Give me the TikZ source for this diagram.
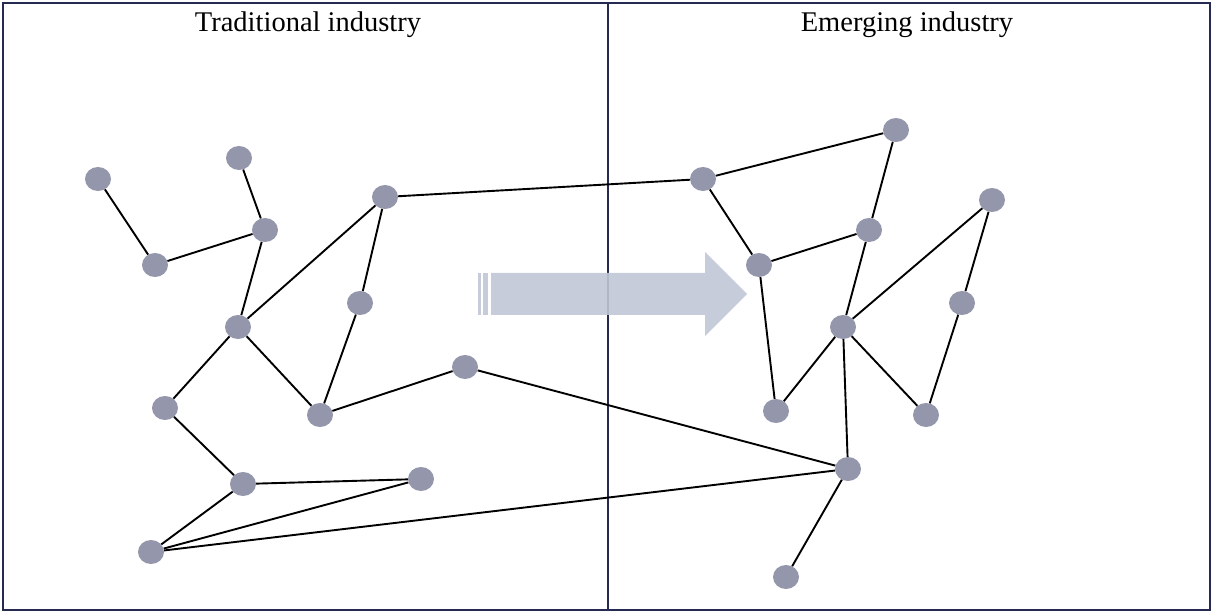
\documentclass[tikz,border=0pt]{standalone}
\usepackage{fontspec}
\setmainfont{Liberation Serif}
\definecolor{framecol}{HTML}{262A50}
\definecolor{dotcol}{HTML}{9496AB}
\definecolor{arrowcol}{HTML}{C0C7D5}
\tikzset{
  dot/.style={ellipse, fill=dotcol, minimum width=26pt, minimum height=24pt, inner sep=0pt},
  link/.style={line width=1.9pt, black},
  title/.style={font=\fontsize{28.5}{32}\selectfont, anchor=base}
}
\usetikzlibrary{shapes.geometric}

\begin{document}
\begin{tikzpicture}[x=1pt, y=-1pt]

% Page size
\useasboundingbox (0,0) rectangle (1213,612);

% Frame and divider
\draw[framecol, line width=2.5pt] (3,3) rectangle (1210,610);
\draw[framecol, line width=2.5pt] (608,3) -- (608,610);

% Titles
\node[title] (tradtitle) at (308,32) {Traditional industry};
\node[title] (emergtitle) at (907,32) {Emerging industry};

% Big arrow between the two sides
\fill[arrowcol, fill opacity=0.9] (478,273) rectangle (481,315);
\fill[arrowcol, fill opacity=0.9] (483,273) rectangle (488,315);
\fill[arrowcol, fill opacity=0.9] (491,273) -- (705,273) -- (705,252) -- (747,294)
  -- (705,336) -- (705,315) -- (491,315) -- cycle;

% Traditional industry nodes
\node[dot] (t1) at (98,179) {};
\node[dot] (t2) at (239,158) {};
\node[dot] (t3) at (155,265) {};
\node[dot] (t4) at (265,230) {};
\node[dot] (t5) at (385,197) {};
\node[dot] (t6) at (360,303) {};
\node[dot] (t7) at (238,327) {};
\node[dot] (t8) at (165,408) {};
\node[dot] (t9) at (320,415) {};
\node[dot] (t10) at (465,367) {};
\node[dot] (t11) at (243,484) {};
\node[dot] (t12) at (421,479) {};
\node[dot] (t13) at (151,552) {};

% Emerging industry nodes
\node[dot] (e1) at (896,130) {};
\node[dot] (e2) at (703,179) {};
\node[dot] (e3) at (992,200) {};
\node[dot] (e4) at (869,230) {};
\node[dot] (e5) at (759,265) {};
\node[dot] (e6) at (962,303) {};
\node[dot] (e7) at (843,327) {};
\node[dot] (e8) at (776,411) {};
\node[dot] (e9) at (926,415) {};
\node[dot] (e10) at (848,469) {};
\node[dot] (e11) at (786,577) {};

% Links on the left
\draw[link] (t1) -- (t3);
\draw[link] (t3) -- (t4);
\draw[link] (t2) -- (t4);
\draw[link] (t4) -- (t7);
\draw[link] (t7) -- (t5);
\draw[link] (t5) -- (t6);
\draw[link] (t6) -- (t9);
\draw[link] (t7) -- (t9);
\draw[link] (t7) -- (t8);
\draw[link] (t8) -- (t11);
\draw[link] (t9) -- (t10);
\draw[link] (t11) -- (t12);
\draw[link] (t11) -- (t13);
\draw[link] (t13) -- (t12);

% Links crossing over
\draw[link] (t5) -- (e2);
\draw[link] (t10) -- (e10);
\draw[link] (t13) -- (e10);

% Links on the right
\draw[link] (e2) -- (e1);
\draw[link] (e1) -- (e4);
\draw[link] (e2) -- (e5);
\draw[link] (e5) -- (e4);
\draw[link] (e4) -- (e7);
\draw[link] (e5) -- (e8);
\draw[link] (e7) -- (e8);
\draw[link] (e7) -- (e3);
\draw[link] (e3) -- (e6);
\draw[link] (e6) -- (e9);
\draw[link] (e7) -- (e9);
\draw[link] (e7) -- (e10);
\draw[link] (e10) -- (e11);

\end{tikzpicture}
\end{document}
